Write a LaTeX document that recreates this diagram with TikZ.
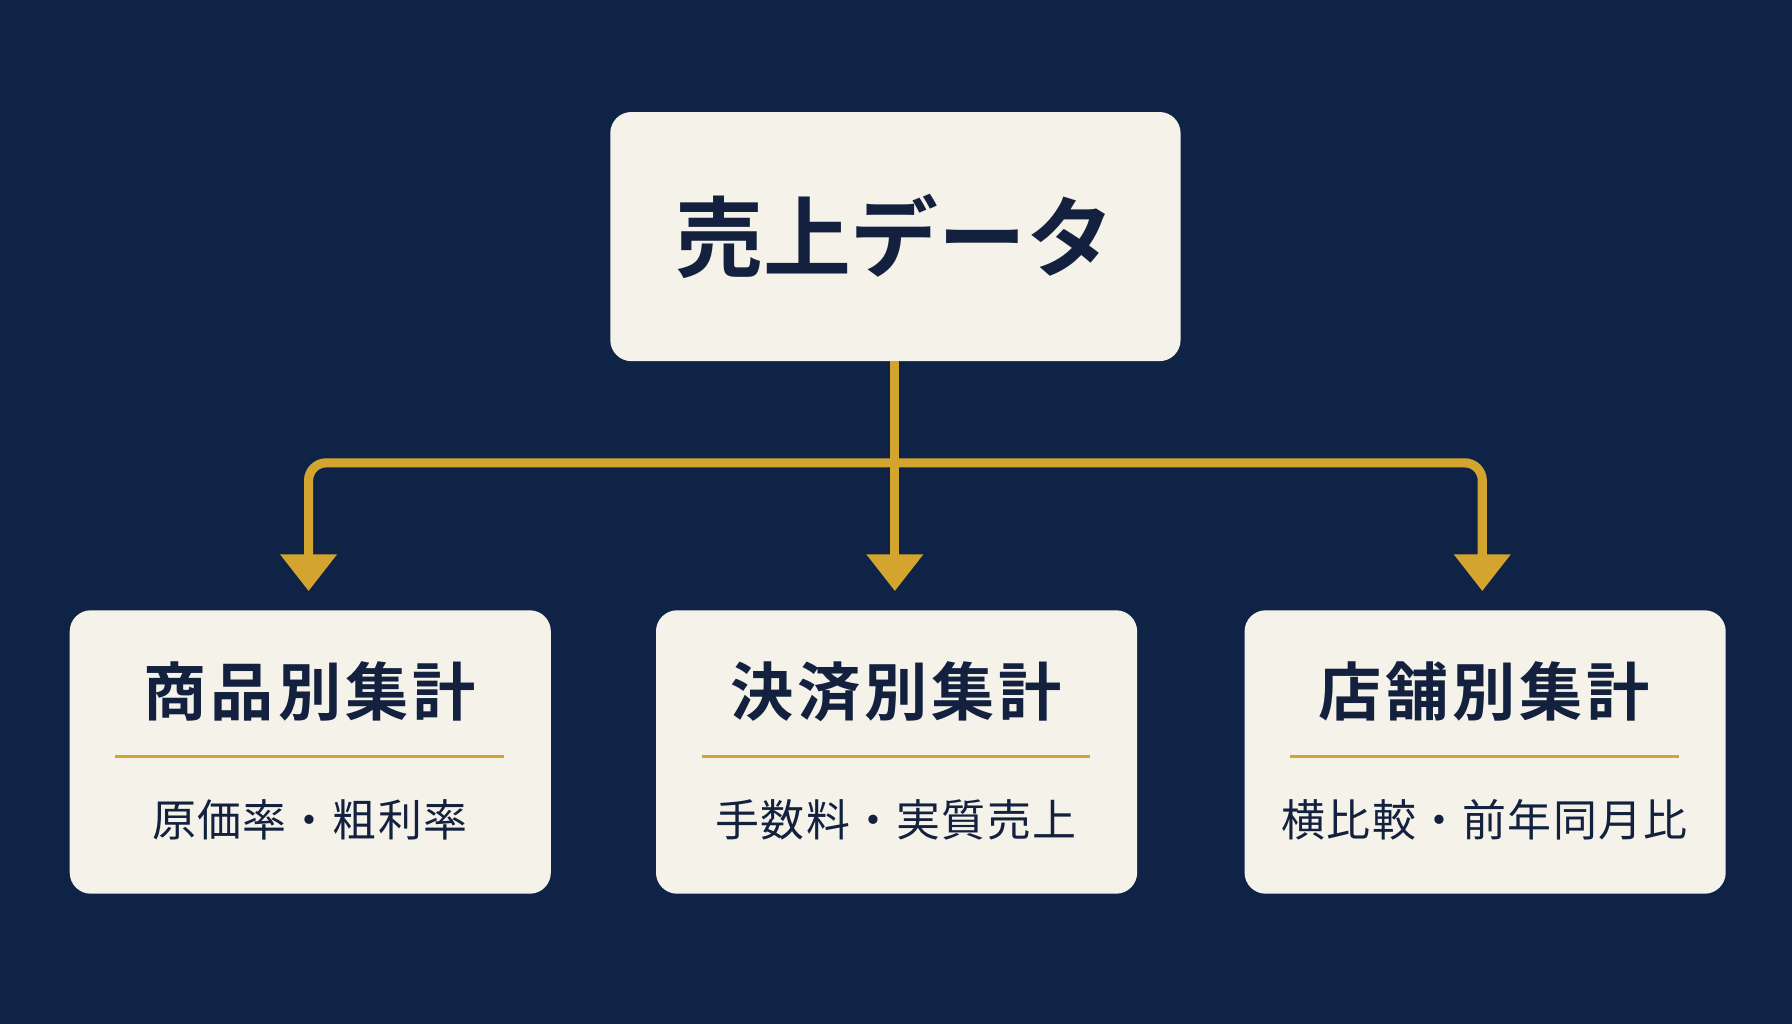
\documentclass[tikz,border=0pt]{standalone}
\usepackage{fontspec}
\newfontfamily\cjk{Noto Sans CJK JP}
\newfontfamily\cjkb{Noto Sans CJK JP Bold}
\usetikzlibrary{positioning}
\definecolor{navy}{HTML}{0F2347}
\definecolor{paper}{HTML}{F5F2EA}
\definecolor{gold}{HTML}{D4A52E}
\definecolor{ink}{HTML}{13213F}

\tikzset{
  card/.style={fill=paper, rounded corners=6pt},
  link/.style={gold, line width=2.6pt, rounded corners=5pt},
  tip/.style={fill=gold}
}

\begin{document}
\begin{tikzpicture}[x=0.1143mm, y=-0.1143mm]
  \fill[navy] (0,0) rectangle (1568,896);
  \useasboundingbox (0,0) rectangle (1568,896);
  % top box
  \fill[card] (534,98) rectangle (1033,316);
  \node[text=ink, font=\cjkb\fontsize{25}{25}\selectfont] (src) at (783,207) {売上データ};
  \coordinate (srcb) at (783,316);
  % connectors
  \coordinate (hub) at (783,405);
  \draw[link] (srcb) -- (hub);
  \draw[link] (270,488) -- (270,405) -- (1297,405) -- (1297,488);
  \draw[link] (hub) -- (783,488);
  \foreach \x in {270,783,1297}
    \fill[tip] (\x-25,485) -- (\x+25,485) -- (\x,517) -- cycle;
  % bottom boxes
  \foreach \cx/\name/\sub [count=\i] in {271/商品別集計/原価率・粗利率, 784/決済別集計/手数料・実質売上, 1299/店舗別集計/横比較・前年同月比} {
    \fill[card] (\cx-210,534) rectangle (\cx+211,782);
    \node[text=ink, font=\cjkb\fontsize{18}{18}\selectfont\addfontfeature{LetterSpace=6}] (t\i) at (\cx,605) {\name};
    \draw[gold, line width=1pt] (\cx-170,662) -- (\cx+170,662);
    \node[text=ink, font=\cjk\fontsize{12.5}{12.5}\selectfont\addfontfeature{LetterSpace=3}] (s\i) at (\cx,717) {\sub};
  }
\end{tikzpicture}
\end{document}
